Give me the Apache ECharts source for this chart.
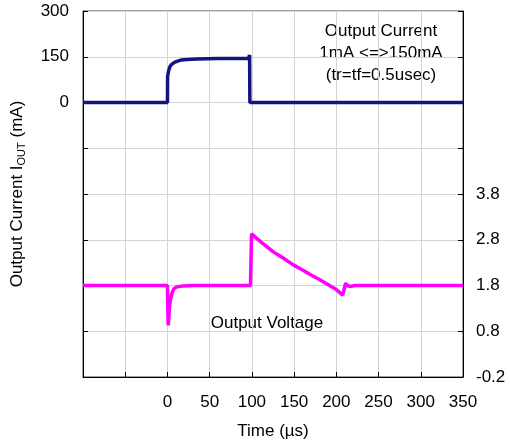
<!DOCTYPE html>
<html>
<head>
<meta charset="utf-8">
<script src="https://cdn.jsdelivr.net/npm/echarts@6/dist/echarts.min.js"></script>
<style>
  html, body { margin: 0; padding: 0; background: #fff; }
  #chart { width: 510px; height: 448px; }
</style>
</head>
<body>
<div id="chart"></div>
<script>
// time axis (µs)
var timeTicks = [0, 50, 100, 150, 200, 250, 300, 350];

// output current (mA)
var currentTime  = [-100, 0, 0.2, 1, 1.5, 3, 5, 8, 11, 16, 23, 35, 60, 96, 97.3, 97.6, 350];
var currentValue = [0, 0, 86, 90, 105, 118, 125, 131, 135, 139, 141, 143, 144, 144, 156, 0, 0];

// output voltage (V)
var voltageTime  = [-100, 0, 0.6, 1, 1.6, 2.5, 3.7, 5.5, 7.6, 11, 18, 30, 98.3, 98.8, 99.6,
                    105, 112, 125, 137, 149, 160, 170, 180, 190, 200, 207.5, 209, 211, 213, 216, 222, 350];
var voltageValue = [1.8, 1.8, 1.1, 0.93, 1.1, 1.35, 1.5, 1.64, 1.73, 1.77, 1.79, 1.8, 1.8, 1.76, 2.93,
                    2.84, 2.73, 2.54, 2.4, 2.25, 2.14, 2.03, 1.93, 1.82, 1.71, 1.59, 1.62, 1.85, 1.8, 1.78, 1.8, 1.8];

function pairs(xs, ys) {
    var out = [];
    for (var i = 0; i < xs.length; i++) {
        out.push([xs[i], ys[i]]);
    }
    return out;
}

var font = '"Liberation Sans", Arial, sans-serif';
var chart = echarts.init(document.getElementById('chart'));

var option = {
    animation: false,
    grid: {
        left: 83, right: 47, top: 11, bottom: 71,
        show: true, borderColor: '#444', borderWidth: 1
    },
    xAxis: {
        type: 'value',
        min: -100, max: 350, interval: 50,
        name: 'Time (µs)',
        nameLocation: 'middle',
        nameGap: 46,
        nameTextStyle: { fontSize: 17, fontFamily: font, color: '#000' },
        axisLine: { onZero: false, lineStyle: { color: '#000', width: 1 } },
        axisTick: { inside: true, length: 5, lineStyle: { color: '#000' } },
        axisLabel: {
            fontSize: 17, fontFamily: font, color: '#000', margin: 17,
            formatter: function (v) { return timeTicks.indexOf(v) >= 0 ? String(v) : ''; }
        },
        splitLine: { lineStyle: { color: '#d4d4d4', width: 1 } }
    },
    yAxis: [
        {
            type: 'value',
            min: -900, max: 300, interval: 150,
            name: '{a|Output Current I}{s|OUT}{a| (mA)}',
            nameLocation: 'middle',
            nameRotate: 90,
            nameGap: 56,
            nameTextStyle: {
                fontFamily: font, color: '#000',
                rich: {
                    a: { fontSize: 17, fontFamily: font, color: '#000', lineHeight: 20, verticalAlign: 'middle' },
                    s: { fontSize: 11, fontFamily: font, color: '#000', lineHeight: 20, verticalAlign: 'bottom', padding: [6, 0, 0, 0] }
                }
            },
            axisLine: { show: true, onZero: false, lineStyle: { color: '#000', width: 1 } },
            axisTick: { inside: true, length: 5, lineStyle: { color: '#000' } },
            axisLabel: {
                fontSize: 17, fontFamily: font, color: '#000', margin: 14,
                formatter: function (v) { return v >= 0 ? String(v) : ''; }
            },
            splitLine: { lineStyle: { color: '#d4d4d4', width: 1 } }
        },
        {
            type: 'value',
            min: -0.2, max: 7.8, interval: 1,
            position: 'right',
            axisLine: { show: true, onZero: false, lineStyle: { color: '#000', width: 1 } },
            axisTick: { inside: true, length: 5, lineStyle: { color: '#000' } },
            axisLabel: {
                fontSize: 17, fontFamily: font, color: '#000', margin: 13,
                formatter: function (v) { return v <= 3.85 ? v.toFixed(1) : ''; }
            },
            splitLine: { show: false }
        }
    ],
    series: [
        {
            name: 'Output Current',
            type: 'line',
            yAxisIndex: 0,
            data: pairs(currentTime, currentValue),
            showSymbol: false,
            lineStyle: { color: '#14147f', width: 3.5 },
            itemStyle: { color: '#14147f' }
        },
        {
            name: 'Output Voltage',
            type: 'line',
            yAxisIndex: 1,
            data: pairs(voltageTime, voltageValue),
            showSymbol: false,
            lineStyle: { color: '#ff00ff', width: 3.5 },
            itemStyle: { color: '#ff00ff' }
        }
    ],
    graphic: [
        {
            type: 'text', x: 381, y: 20,
            style: {
                text: 'Output Current\n1mA <=>150mA\n(tr=tf=0.5usec)',
                fontSize: 17, fontFamily: font, fill: '#000',
                align: 'center', verticalAlign: 'top', lineHeight: 22
            }
        },
        {
            type: 'text', x: 267, y: 323,
            style: {
                text: 'Output Voltage',
                fontSize: 17, fontFamily: font, fill: '#000',
                align: 'center', verticalAlign: 'middle'
            }
        }
    ]
};

if (option && typeof option === "object") {
    chart.setOption(option, true);
}
</script>
</body>
</html>
